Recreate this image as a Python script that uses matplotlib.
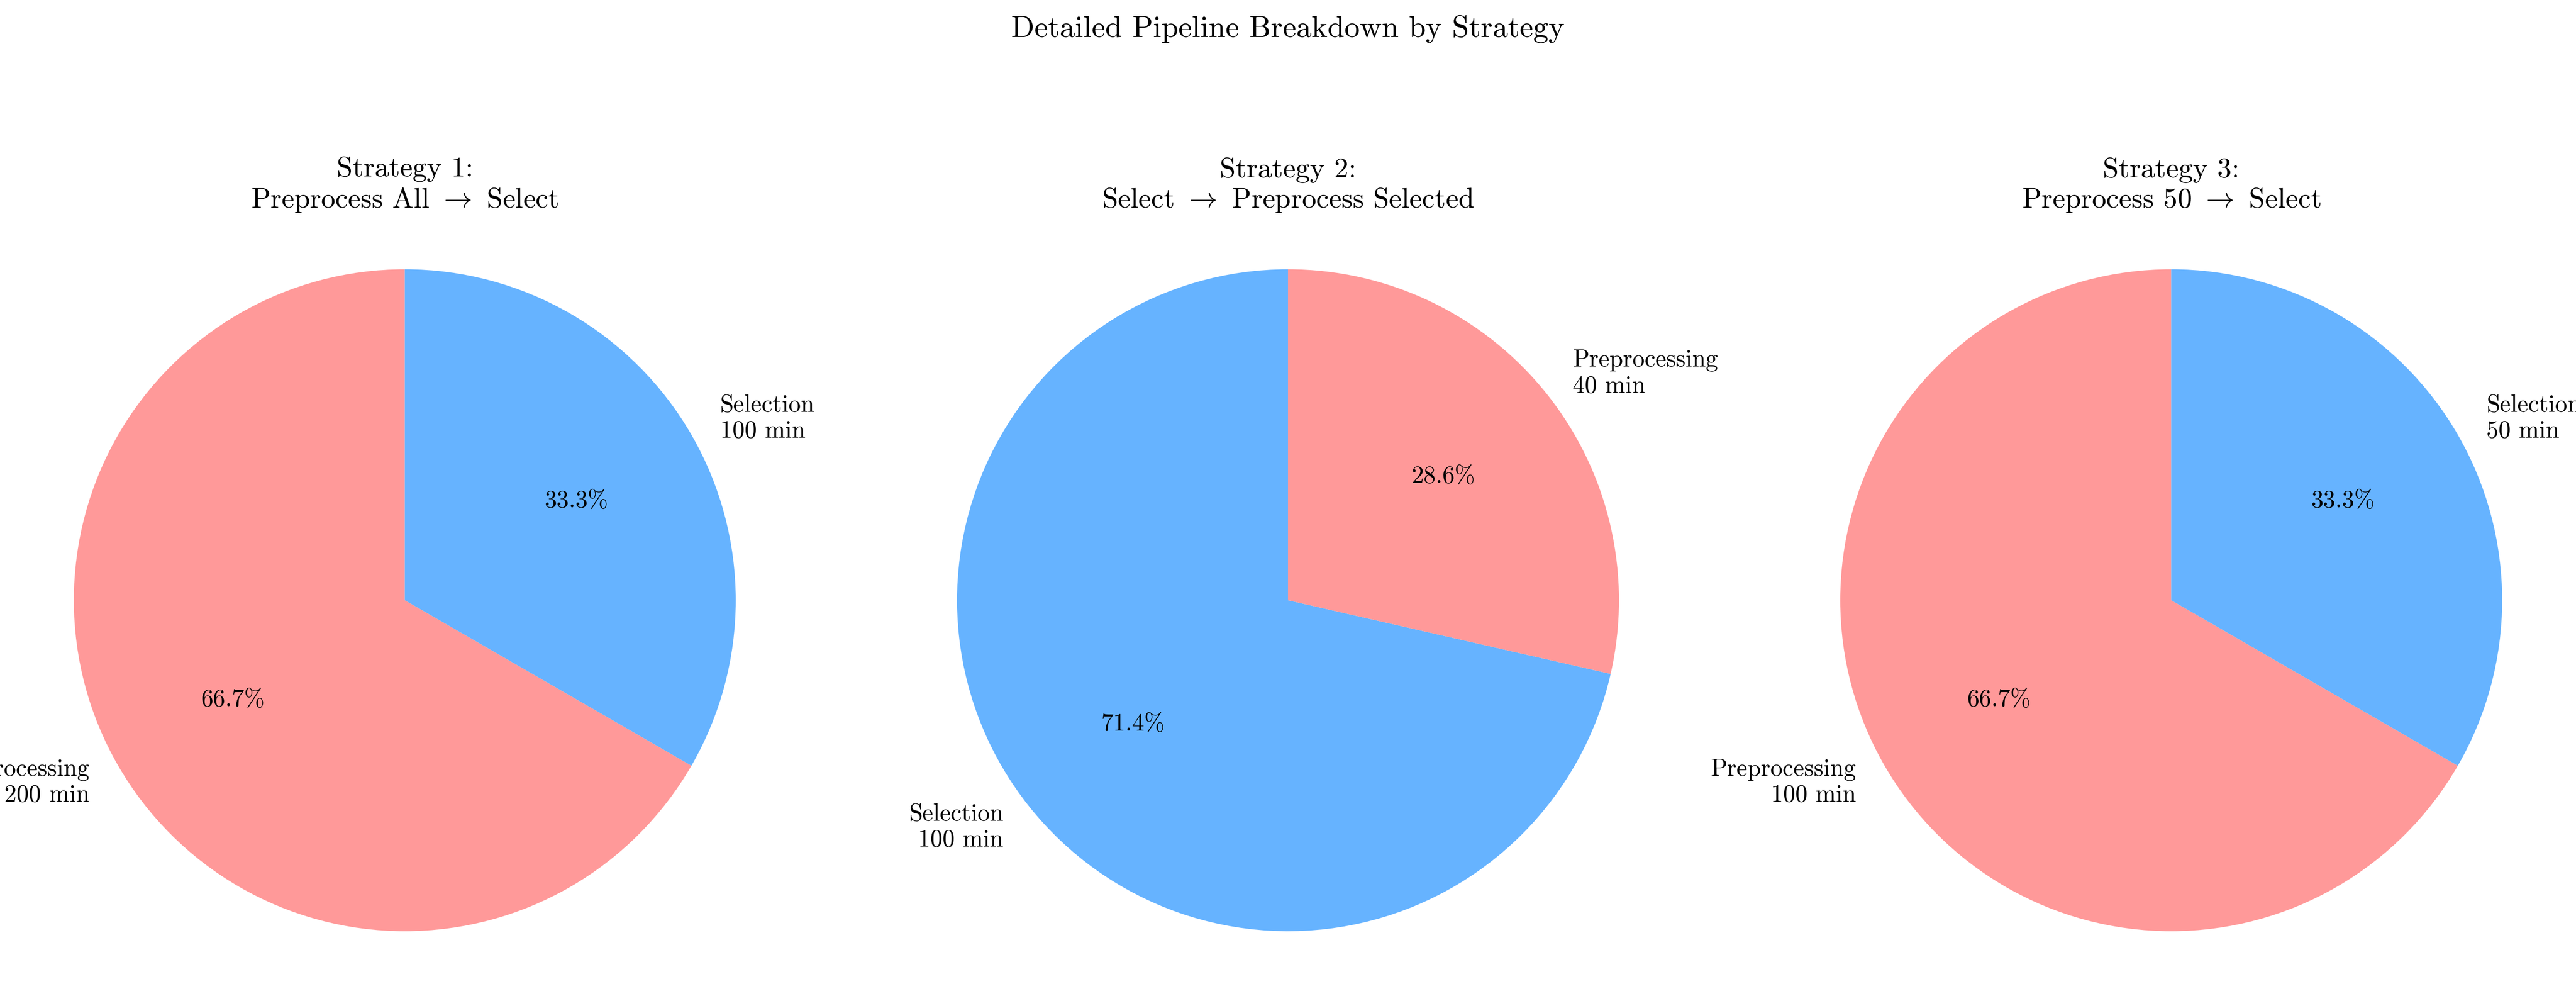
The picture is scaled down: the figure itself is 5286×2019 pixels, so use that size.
import matplotlib.pyplot as plt

plt.rcParams['font.family'] = 'serif'
plt.rcParams['font.serif'] = ['cmr10', 'DejaVu Serif']
plt.rcParams['mathtext.fontset'] = 'cm'
plt.rcParams['axes.unicode_minus'] = False

titles = ['Strategy 1:\nPreprocess All $\\rightarrow$ Select',
          'Strategy 2:\nSelect $\\rightarrow$ Preprocess Selected',
          'Strategy 3:\nPreprocess 50 $\\rightarrow$ Select']
stage_names = [['Preprocessing', 'Selection'],
               ['Selection', 'Preprocessing'],
               ['Preprocessing', 'Selection']]
minutes = [[200, 100], [100, 40], [100, 50]]
stage_colors = {'Preprocessing': '#ff9999', 'Selection': '#66b3ff'}

fig, axes = plt.subplots(1, 3, figsize=(17.62, 6.73), dpi=300)
for ax, title, names, vals in zip(axes, titles, stage_names, minutes):
    labels = [f'{n}\n{v} min' for n, v in zip(names, vals)]
    ax.pie(vals, labels=labels, colors=[stage_colors[n] for n in names],
           autopct='%1.1f%%', startangle=90, textprops={'fontsize': 12})
    ax.set_title(title, fontsize=14, pad=14)
    ax.axis('equal')

fig.suptitle('Detailed Pipeline Breakdown by Strategy', fontsize=15, y=0.985)
fig.subplots_adjust(top=0.76, bottom=0.02, left=0.02, right=0.98, wspace=0.25)
fig.savefig('out.png', dpi=300)
